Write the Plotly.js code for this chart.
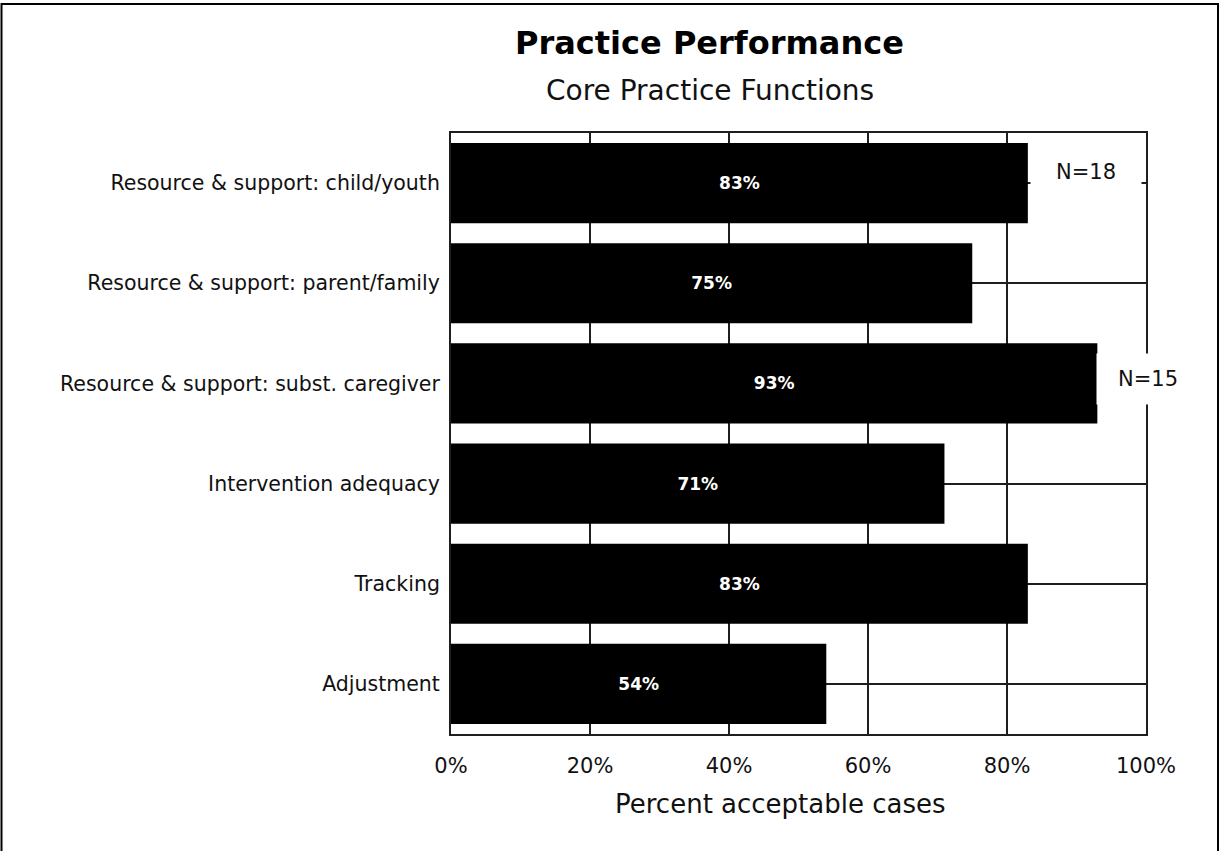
<!DOCTYPE html>
<html>
<head>
<meta charset="utf-8">
<script src="https://cdn.plot.ly/plotly-3.0.1.min.js"></script>
<style>
  html, body { margin: 0; padding: 0; background: #ffffff; }
  #chart { width: 1220px; height: 851px; }
</style>
</head>
<body>
<div id="chart"></div>
<script>
// Core practice functions, listed top to bottom
const categories = [
  "Resource & support: child/youth",
  "Resource & support: parent/family",
  "Resource & support: subst. caregiver",
  "Intervention adequacy",
  "Tracking",
  "Adjustment"
];
// Percent of acceptable cases per function
const percentAcceptable = [83, 75, 93, 71, 83, 54];
const barLabels = percentAcceptable.map(v => v + "%");
const xTickValues = [0, 20, 40, 60, 80, 100];
const xTickLabels = ["0%", "20%", "40%", "60%", "80%", "100%"];
const sampleNotes = ["N=18", "N=15"];

const FONT = "DejaVu Sans, Liberation Sans, Arial, sans-serif";
const INK = "#111111";
const GRID = "#1e1e1e";

const trace = {
  type: "bar",
  orientation: "h",
  y: categories,
  x: percentAcceptable,
  text: barLabels,
  textposition: "inside",
  insidetextanchor: "middle",
  textangle: 0,
  constraintext: "none",
  textfont: { family: FONT, size: 17, color: "#ffffff", weight: "bold" },
  marker: { color: "#000000", line: { width: 0 } },
  hoverinfo: "none",
  cliponaxis: false
};

// Plot area spans x 451..1146, y 133..734 in page pixels
const L = 451, R = 1146, T = 133, B = 734, W = 1220, H = 851;
const px = x => (x - L) / (R - L);
const py = y => (B - y) / (B - T);

const layout = {
  width: W,
  height: H,
  margin: { l: L, r: W - R, t: T, b: H - B, pad: 0 },
  paper_bgcolor: "#ffffff",
  plot_bgcolor: "#ffffff",
  showlegend: false,
  bargap: 0.2,
  xaxis: {
    range: [0, 100],
    tickvals: xTickValues,
    ticktext: xTickLabels,
    ticks: "",
    showgrid: true,
    gridcolor: GRID,
    gridwidth: 2,
    zeroline: false,
    showline: true,
    linecolor: GRID,
    linewidth: 2,
    mirror: true,
    tickfont: { family: FONT, size: 21, color: INK },
    ticklabelstandoff: 12,
    fixedrange: true
  },
  yaxis: {
    autorange: "reversed",
    type: "category",
    ticks: "",
    showgrid: true,
    gridcolor: GRID,
    gridwidth: 2,
    zeroline: false,
    showline: true,
    linecolor: GRID,
    linewidth: 2,
    mirror: true,
    tickfont: { family: FONT, size: 20.5, color: INK },
    ticklabelstandoff: 5,
    fixedrange: true
  },
  annotations: [
    {
      text: "<b>Practice Performance</b>",
      xref: "paper", yref: "paper",
      x: px(709), y: py(43),
      xanchor: "center", yanchor: "middle",
      showarrow: false,
      font: { family: FONT, size: 32, color: "#000000" }
    },
    {
      text: "Core Practice Functions",
      xref: "paper", yref: "paper",
      x: px(710), y: py(90),
      xanchor: "center", yanchor: "middle",
      showarrow: false,
      font: { family: FONT, size: 28, color: INK }
    },
    {
      // x-axis title
      text: "Percent acceptable cases",
      xref: "paper", yref: "paper",
      x: px(780), y: py(804),
      xanchor: "center", yanchor: "middle",
      showarrow: false,
      font: { family: FONT, size: 26, color: INK }
    },
    {
      text: sampleNotes[0],
      xref: "paper", yref: "paper",
      x: px(1086), y: py(172),
      xanchor: "center", yanchor: "middle",
      showarrow: false,
      bgcolor: "#ffffff",
      width: 108, height: 44,
      font: { family: FONT, size: 21, color: INK }
    },
    {
      text: sampleNotes[1],
      xref: "paper", yref: "paper",
      x: px(1148), y: py(379),
      xanchor: "center", yanchor: "middle",
      showarrow: false,
      bgcolor: "#ffffff",
      width: 100, height: 48,
      font: { family: FONT, size: 21, color: INK }
    }
  ],
  shapes: [
    {
      type: "rect", xref: "paper", yref: "paper",
      x0: px(1.5), x1: px(1218), y0: py(900), y1: py(4),
      line: { color: "#000000", width: 2 },
      fillcolor: "rgba(0,0,0,0)",
      layer: "above"
    }
  ]
};

Plotly.newPlot("chart", [trace], layout, { displayModeBar: false, staticPlot: true });
</script>
</body>
</html>
